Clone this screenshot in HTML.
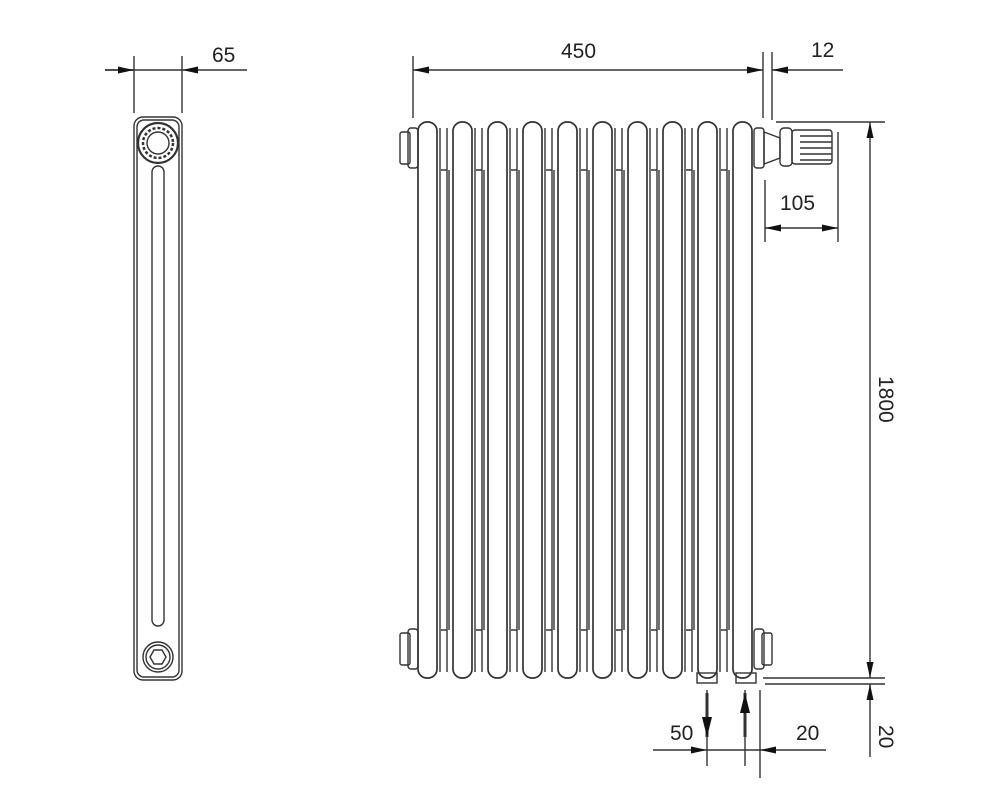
<!DOCTYPE html>
<html><head><meta charset="utf-8"><style>body{margin:0;background:#fff}svg{display:block}text{font-family:"Liberation Sans",sans-serif;font-size:21px;fill:#222}</style></head><body>
<svg width="1000" height="800" viewBox="0 0 1000 800" xmlns="http://www.w3.org/2000/svg">
<defs>
<marker id="a" viewBox="0 0 16 7" refX="16" refY="3.5" markerWidth="16" markerHeight="7" markerUnits="userSpaceOnUse" orient="auto"><path d="M0,0L16,3.5L0,7z" fill="#111"/></marker>
<marker id="b" viewBox="0 0 20 10" refX="20" refY="5" markerWidth="20" markerHeight="10" markerUnits="userSpaceOnUse" orient="auto"><path d="M0,0L20,5L0,10z" fill="#111"/></marker>
</defs>
<g stroke="#333" stroke-width="1.4" fill="none">
<rect x="134" y="117" width="48" height="563" rx="9"/>
<rect x="137" y="120" width="42" height="557" rx="7"/>
<circle cx="158" cy="143" r="20" stroke-width="2.2"/>
<circle cx="158" cy="143" r="15" stroke-dasharray="3 2" stroke-width="2.5"/>
<circle cx="158" cy="143" r="11"/>
<rect x="152" y="166" width="12" height="460" rx="6"/>
<circle cx="158" cy="657" r="15"/><circle cx="158" cy="657" r="12"/>
<polygon points="150,657 154,650 162,650 166,657 162,664 154,664"/>
<line x1="134" y1="56" x2="134" y2="113"/><line x1="182" y1="56" x2="182" y2="113"/>
<line x1="105" y1="70" x2="134" y2="70"/>
<line x1="105" y1="70" x2="134" y2="70" marker-end="url(#a)"/>
<line x1="134" y1="70" x2="182" y2="70"/>
<line x1="247" y1="70" x2="182" y2="70" marker-end="url(#a)"/>
<rect x="400" y="132" width="10" height="32" rx="2"/><rect x="408" y="128" width="10" height="40" rx="3"/>
<rect x="400" y="633" width="10" height="32" rx="2"/><rect x="408" y="629" width="10" height="40" rx="3"/>
<rect x="762" y="633" width="10" height="32" rx="2"/><rect x="754" y="629" width="10" height="40" rx="3"/>
<rect x="754" y="128" width="10" height="40" rx="3"/>
<g>
<path d="M440,128V672M447,128V672M449,170V630M441,170H447M441,630H447"/>
<path d="M475,128V672M482,128V672M484,170V630M476,170H482M476,630H482"/>
<path d="M510,128V672M517,128V672M519,170V630M511,170H517M511,630H517"/>
<path d="M545,128V672M552,128V672M554,170V630M546,170H552M546,630H552"/>
<path d="M580,128V672M587,128V672M589,170V630M581,170H587M581,630H587"/>
<path d="M615,128V672M622,128V672M624,170V630M616,170H622M616,630H622"/>
<path d="M650,128V672M657,128V672M659,170V630M651,170H657M651,630H657"/>
<path d="M685,128V672M692,128V672M694,170V630M686,170H692M686,630H692"/>
<path d="M720,128V672M727,128V672M729,170V630M721,170H727M721,630H727"/>
</g>
<g stroke-width="1.7">
<rect x="418" y="122" width="19" height="556" rx="9"/>
<rect x="453" y="122" width="19" height="556" rx="9"/>
<rect x="488" y="122" width="19" height="556" rx="9"/>
<rect x="523" y="122" width="19" height="556" rx="9"/>
<rect x="558" y="122" width="19" height="556" rx="9"/>
<rect x="593" y="122" width="19" height="556" rx="9"/>
<rect x="628" y="122" width="19" height="556" rx="9"/>
<rect x="663" y="122" width="19" height="556" rx="9"/>
<rect x="698" y="122" width="19" height="556" rx="9"/>
<rect x="733" y="122" width="19" height="556" rx="9"/>
</g>
<rect x="697" y="673" width="20" height="10"/><rect x="736" y="673" width="20" height="10"/>
<path d="M764,132L780,138V158L764,164Z"/>
<rect x="780" y="128" width="12" height="38" rx="4"/>
<rect x="792" y="130" width="40" height="34" rx="3"/>
<path d="M800,136H832M800,142H832M800,148H832M800,154H832M800,160H832"/>
<line x1="413" y1="56" x2="413" y2="118"/><line x1="763" y1="52" x2="763" y2="118"/><line x1="772" y1="52" x2="772" y2="120"/>
<line x1="588" y1="70" x2="413" y2="70" marker-end="url(#a)"/>
<line x1="588" y1="70" x2="763" y2="70" marker-end="url(#a)"/>
<line x1="843" y1="70" x2="772" y2="70" marker-end="url(#a)"/>
<line x1="765" y1="180" x2="765" y2="242"/><line x1="838" y1="132" x2="838" y2="242"/>
<line x1="800" y1="228" x2="765" y2="228" marker-end="url(#a)"/>
<line x1="800" y1="228" x2="838" y2="228" marker-end="url(#a)"/>
<line x1="776" y1="122" x2="885" y2="122"/>
<line x1="763" y1="678" x2="885" y2="678"/><line x1="765" y1="684" x2="885" y2="684"/>
<line x1="870" y1="400" x2="870" y2="122" marker-end="url(#a)"/>
<line x1="870" y1="400" x2="870" y2="678" marker-end="url(#a)"/>
<line x1="870" y1="757" x2="870" y2="684" marker-end="url(#a)"/>
<line x1="707" y1="690" x2="707" y2="766"/><line x1="745" y1="690" x2="745" y2="766"/><line x1="760" y1="690" x2="760" y2="778"/>
<line x1="653" y1="750" x2="707" y2="750" marker-end="url(#a)"/>
<line x1="707" y1="750" x2="760" y2="750"/>
<line x1="826" y1="750" x2="760" y2="750" marker-end="url(#a)"/>
<line x1="707" y1="693" x2="707" y2="737" stroke-width="3" marker-end="url(#b)"/>
<line x1="745" y1="737" x2="745" y2="693" stroke-width="3" marker-end="url(#b)"/>
</g>
<text x="212" y="62">65</text>
<text x="561" y="58">450</text>
<text x="811" y="57">12</text>
<text x="780" y="210">105</text>
<text x="670" y="740">50</text>
<text x="796" y="740">20</text>
<text transform="translate(879,376) rotate(90)">1800</text>
<text transform="translate(879,725) rotate(90)">20</text>
</svg>
</body></html>
